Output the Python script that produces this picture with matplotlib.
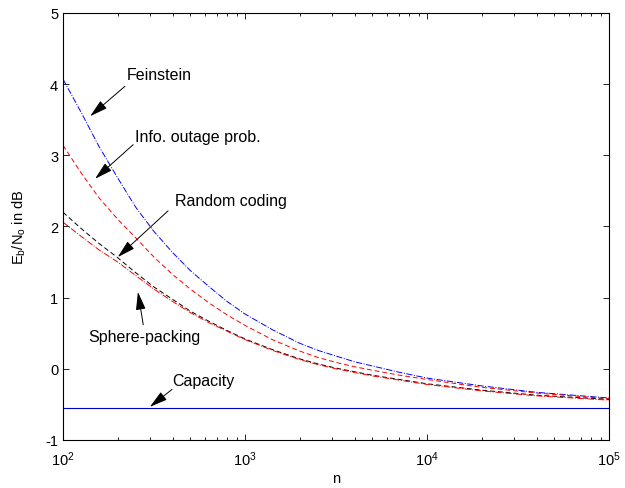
import numpy as np
import matplotlib
matplotlib.use("Agg")
import matplotlib.pyplot as plt

plt.rcParams['font.family'] = ['Liberation Sans', 'DejaVu Sans']
plt.rcParams['mathtext.default'] = 'regular'
plt.rcParams['axes.unicode_minus'] = False
plt.rcParams['font.size'] = 10

# block length n and Eb/No (dB)
n = [100, 126, 158, 200, 251, 316, 398, 501, 631, 794, 1000, 1413, 1995,
     2512, 3162, 3981, 5012, 7079, 10000, 19953, 39811, 100000]
feinstein = [4.07, 3.60, 3.12, 2.68, 2.27, 1.93, 1.64, 1.38, 1.16, 0.95, 0.77, 0.55, 0.36,
             0.26, 0.18, 0.10, 0.04, -0.05, -0.13, -0.24, -0.33, -0.41]
outage = [3.14, 2.75, 2.40, 2.10, 1.84, 1.57, 1.33, 1.12, 0.93, 0.76, 0.61, 0.41, 0.25,
          0.16, 0.09, 0.03, -0.02, -0.09, -0.15, -0.26, -0.34, -0.42]
random_coding = [2.20, 1.97, 1.76, 1.56, 1.35, 1.15, 0.98, 0.81, 0.67, 0.54, 0.42, 0.27, 0.14,
                 0.07, 0.01, -0.04, -0.09, -0.15, -0.21, -0.30, -0.37, -0.43]
sphere_packing = [2.06, 1.86, 1.67, 1.50, 1.31, 1.12, 0.95, 0.79, 0.65, 0.53, 0.41, 0.26, 0.13,
                  0.06, 0.00, -0.05, -0.10, -0.16, -0.22, -0.31, -0.38, -0.44]
capacity = -0.55

# label text (left, centre) and arrow (tail, head), data coordinates
labels = ["Feinstein", "Info. outage prob.", "Random coding", "Sphere-packing", "Capacity"]
label_pos = [(225, 4.14), (249, 3.27), (412, 2.36), (137, 0.46), (397, -0.17)]
arrow_tail = [(219, 3.97), (243, 3.15), (378, 2.22), (276, 0.62), (397, -0.29)]
arrow_head = [(141, 3.55), (150, 2.67), (200, 1.57), (258, 1.08), (300, -0.535)]

fig = plt.figure(figsize=(6.25, 4.89), dpi=100)
ax = fig.add_axes([0.1008, 0.0982, 0.8736, 0.8732])

ax.semilogx(n, feinstein, color='b', ls='-.', lw=0.7)
ax.semilogx(n, outage, color='r', ls=(0, (5, 3)), lw=0.7)
ax.semilogx(n, random_coding, color='k', ls=(0, (5, 3)), lw=0.7)
ax.semilogx(n, sphere_packing, color='r', ls='-.', lw=0.7)
ax.axhline(capacity, color='#0000cc', lw=0.8)

for txt, p, t, h in zip(labels, label_pos, arrow_tail, arrow_head):
    ax.text(p[0], p[1], txt, ha='left', va='center', fontsize=11.5)
    ax.annotate('', xy=h, xytext=t,
                arrowprops=dict(arrowstyle='-|>,head_length=1.1,head_width=0.3',
                                mutation_scale=10, color='k', lw=0.7,
                                shrinkA=0, shrinkB=0))

ax.set_xlim(100, 1e5)
ax.set_ylim(-1, 5)
ax.set_yticks([-1, 0, 1, 2, 3, 4, 5])
ax.set_xlabel('n', fontsize=10.5, labelpad=2)
ax.set_ylabel('E$_b$/N$_o$ in dB', fontsize=10.5, labelpad=12)
ax.tick_params(which='both', direction='in', top=True, right=True, width=0.6,
               labelsize=10.5)
ax.tick_params(axis='x', pad=7)
ax.tick_params(which='major', length=4)
ax.tick_params(which='minor', length=2)
for s in ax.spines.values():
    s.set_linewidth(0.8)

fig.savefig('out.png', dpi=100)
